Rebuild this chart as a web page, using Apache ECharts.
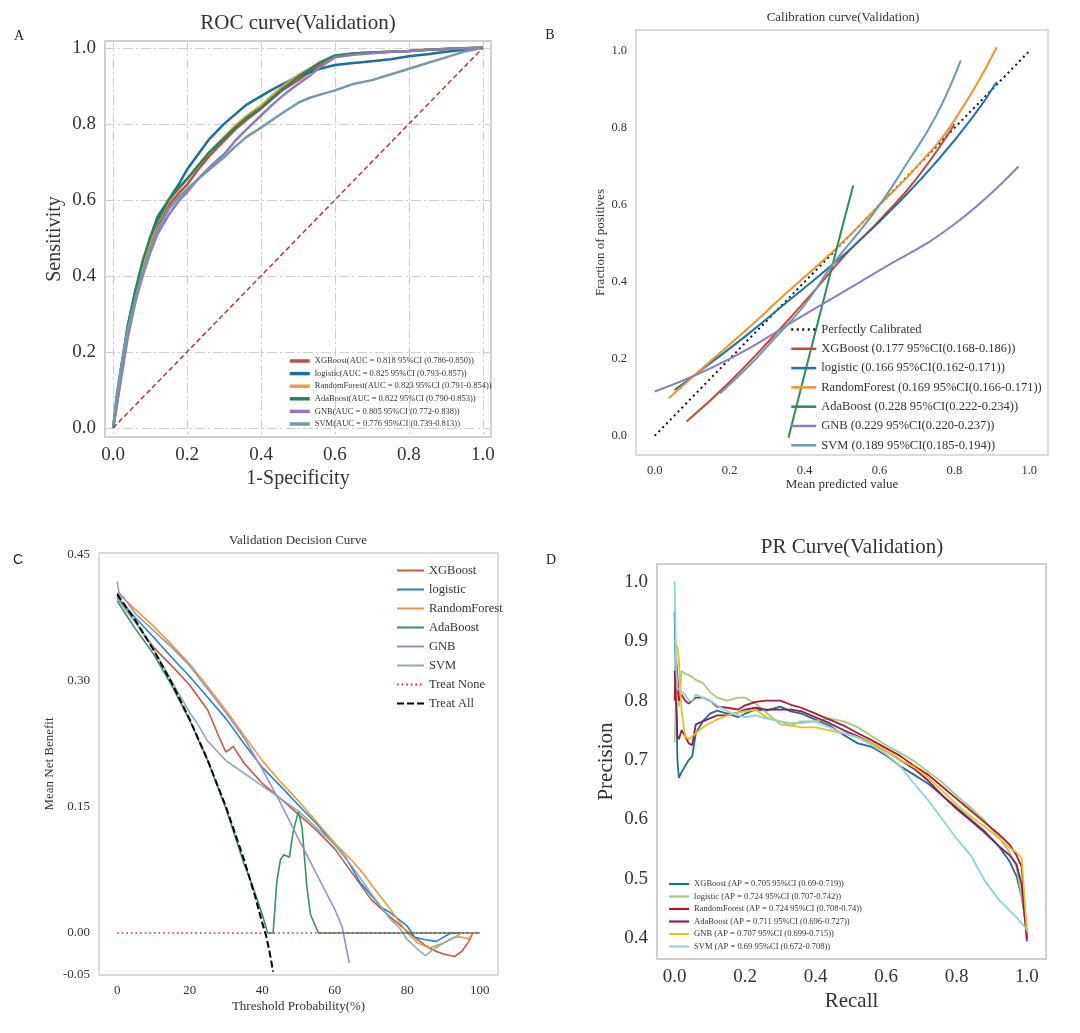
<!DOCTYPE html>
<html>
<head>
<meta charset="utf-8">
<script src="https://cdn.jsdelivr.net/npm/echarts@6/dist/echarts.min.js"></script>
<style>html,body{margin:0;padding:0;background:#fff}#c{width:1080px;height:1033px}</style>
</head>
<body>
<div id="c"></div>
<script>
// ---------------- Panel A: ROC ----------------
const rocFpr = [0,0.01,0.02,0.04,0.06,0.08,0.1,0.12,0.15,0.18,0.2,0.23,0.26,0.3,0.33,0.36,0.4,0.43,0.46,0.5,0.53,0.56,0.6,0.65,0.7,0.75,0.8,0.85,0.9,0.95,1.0];
const rocXGB = [0,0.06,0.13,0.25,0.34,0.42,0.48,0.53,0.585,0.62,0.64,0.68,0.715,0.755,0.785,0.81,0.84,0.865,0.89,0.915,0.935,0.955,0.978,0.985,0.988,0.99,0.992,0.995,0.997,0.999,1];
const rocLog = [0,0.08,0.15,0.27,0.36,0.43,0.50,0.555,0.60,0.645,0.68,0.72,0.76,0.80,0.825,0.85,0.873,0.89,0.905,0.925,0.935,0.945,0.955,0.96,0.965,0.97,0.978,0.983,0.99,0.995,1];
const rocRF  = [0,0.07,0.14,0.26,0.35,0.43,0.49,0.54,0.595,0.63,0.655,0.69,0.725,0.765,0.795,0.82,0.848,0.875,0.9,0.928,0.945,0.962,0.978,0.985,0.988,0.99,0.992,0.995,0.997,0.999,1];
const rocAda = [0,0.07,0.14,0.27,0.36,0.44,0.50,0.545,0.60,0.635,0.655,0.69,0.725,0.762,0.79,0.815,0.842,0.868,0.893,0.923,0.942,0.962,0.98,0.985,0.988,0.99,0.992,0.995,0.997,0.999,1];
const rocGNB = [0,0.06,0.12,0.24,0.33,0.40,0.46,0.51,0.56,0.6,0.62,0.655,0.685,0.72,0.755,0.785,0.822,0.85,0.875,0.905,0.925,0.95,0.975,0.982,0.986,0.99,0.992,0.995,0.997,0.999,1];
const rocSVM = [0,0.09,0.15,0.26,0.34,0.41,0.47,0.52,0.575,0.61,0.628,0.655,0.68,0.712,0.74,0.765,0.79,0.81,0.83,0.855,0.868,0.877,0.888,0.905,0.915,0.93,0.945,0.96,0.975,0.99,1];
const rocNames = ['XGBoost(AUC = 0.818 95%CI (0.786-0.850))','logistic(AUC = 0.825 95%CI (0.793-0.857))','RandomForest(AUC = 0.823 95%CI (0.791-0.854))','AdaBoost(AUC = 0.822 95%CI (0.790-0.853))','GNB(AUC = 0.805 95%CI (0.772-0.838))','SVM(AUC = 0.776 95%CI (0.739-0.813))'];
const rocTicks = [0,0.2,0.4,0.6,0.8,1.0];

// ---------------- Panel B: Calibration ----------------
const calPerfX = [0,1];
const calPerfY = [0,1];
const calXGBX = [0.085,0.2,0.316,0.42,0.512,0.6,0.7,0.8];
const calXGBY = [0.037,0.14,0.258,0.37,0.474,0.56,0.67,0.81];
const calLogX = [0.053,0.15,0.25,0.35,0.45,0.55,0.65,0.75,0.85,0.913];
const calLogY = [0.119,0.19,0.265,0.345,0.425,0.51,0.605,0.71,0.83,0.92];
const calRFX  = [0.038,0.15,0.25,0.35,0.48,0.6,0.7,0.8,0.913];
const calRFY  = [0.098,0.195,0.28,0.37,0.483,0.6,0.7,0.82,1.01];
const calAdaX = [0.357,0.4,0.45,0.5,0.53];
const calAdaY = [-0.005,0.16,0.35,0.54,0.651];
const calGNBX = [0,0.2,0.4,0.6,0.8,0.971];
const calGNBY = [0.115,0.2,0.315,0.43,0.55,0.70];
const calSVMX = [0.174,0.25,0.316,0.4,0.477,0.584,0.673,0.75,0.817];
const calSVMY = [0.11,0.18,0.249,0.34,0.448,0.578,0.708,0.83,0.976];
const calNames = ['Perfectly Calibrated','XGBoost (0.177 95%CI(0.168-0.186))','logistic (0.166 95%CI(0.162-0.171))','RandomForest (0.169 95%CI(0.166-0.171))','AdaBoost (0.228 95%CI(0.222-0.234))','GNB (0.229 95%CI(0.220-0.237))','SVM (0.189 95%CI(0.185-0.194))'];
const calTicks = [0,0.2,0.4,0.6,0.8,1.0];

// ---------------- Panel C: Decision curve ----------------
const dcaXGBT = [0,5,10,15,20,25,28,30,32,35,40,45,50,55,60,65,70,75,80,85,88,90,93,95,97,98,100];
const dcaXGBV = [0.40,0.37,0.34,0.318,0.295,0.265,0.234,0.215,0.222,0.202,0.178,0.16,0.141,0.122,0.10,0.07,0.04,0.02,0.002,-0.015,-0.022,-0.025,-0.028,-0.022,-0.01,0.0,0.0];
const dcaLogT = [0,5,10,15,20,25,30,35,40,45,50,55,60,63,65,67,70,73,75,78,80,82,85,88,90,92,95,100];
const dcaLogV = [0.40,0.375,0.352,0.328,0.305,0.28,0.255,0.225,0.197,0.175,0.152,0.13,0.105,0.09,0.075,0.06,0.045,0.03,0.025,0.015,0.008,-0.005,-0.008,-0.01,-0.005,0.0,0.0,0.0];
const dcaRFT  = [0,5,10,15,20,25,30,35,40,45,50,55,60,65,68,70,75,78,80,83,86,90,93,95,97,98,100];
const dcaRFV  = [0.405,0.385,0.365,0.343,0.32,0.293,0.265,0.235,0.205,0.18,0.157,0.132,0.107,0.085,0.07,0.058,0.03,0.012,0.0,-0.012,-0.018,-0.012,-0.005,-0.005,-0.007,0.0,0.0];
const dcaAdaT = [0,3,5,10,15,20,25,30,35,37,40,41.5,43,44,45,46,47.5,48.5,50,51,52.3,53.3,55.5,60,70,80,90,100];
const dcaAdaV = [0.395,0.375,0.362,0.332,0.295,0.253,0.205,0.148,0.082,0.06,0.022,0.0,0.0,0.06,0.087,0.093,0.09,0.12,0.145,0.125,0.055,0.022,0.0,0,0,0,0,0];
const dcaGNBT = [0,0.5,2,5,10,15,20,25,30,35,40,45,50,55,60,62,64];
const dcaGNBV = [0.418,0.405,0.398,0.38,0.36,0.34,0.318,0.29,0.262,0.232,0.195,0.155,0.112,0.07,0.028,0.008,-0.036];
const dcaSVMT = [0,5,10,15,20,22,25,30,35,40,45,50,55,60,65,70,75,78,80,83,85,87,90,93,95,100];
const dcaSVMV = [0.398,0.37,0.338,0.3,0.262,0.25,0.228,0.205,0.19,0.175,0.16,0.145,0.125,0.105,0.078,0.047,0.018,0.005,-0.008,-0.02,-0.027,-0.02,-0.012,-0.005,0,0];
const dcaNoneT = [0,100];
const dcaNoneV = [0,0];
const dcaAllT = [0,5,10,15,20,25,30,35,38,40,41,42,43];
const dcaAllV = [0.403,0.372,0.337,0.298,0.254,0.205,0.150,0.087,0.044,0.012,-0.002,-0.022,-0.046];
const dcaNames = ['XGBoost','logistic','RandomForest','AdaBoost','GNB','SVM','Treat None','Treat All'];
const dcaXTicks = [0,20,40,60,80,100];
const dcaYTicks = [-0.05,0,0.15,0.30,0.45];

// ---------------- Panel D: PR ----------------
const prRecall = [0,0.004,0.008,0.012,0.02,0.03,0.04,0.05,0.06,0.08,0.10,0.12,0.15,0.18,0.20,0.23,0.26,0.30,0.33,0.36,0.40,0.44,0.48,0.52,0.56,0.60,0.64,0.68,0.72,0.76,0.80,0.84,0.88,0.92,0.95,0.97,0.985,1.0];
const prXGB = [0.95,0.82,0.70,0.67,0.68,0.69,0.70,0.706,0.745,0.765,0.778,0.783,0.778,0.772,0.778,0.785,0.783,0.79,0.782,0.778,0.768,0.758,0.742,0.728,0.722,0.708,0.69,0.675,0.66,0.64,0.62,0.6,0.58,0.555,0.53,0.505,0.47,0.41];
const prLog = [0.73,0.80,0.83,0.79,0.85,0.845,0.843,0.84,0.835,0.83,0.815,0.805,0.80,0.805,0.805,0.795,0.78,0.76,0.758,0.765,0.765,0.77,0.765,0.755,0.74,0.725,0.712,0.698,0.68,0.662,0.64,0.62,0.598,0.57,0.545,0.52,0.47,0.42];
const prRF  = [0.80,0.87,0.84,0.80,0.81,0.80,0.795,0.80,0.805,0.805,0.80,0.79,0.788,0.785,0.792,0.798,0.80,0.80,0.793,0.788,0.778,0.768,0.758,0.745,0.733,0.72,0.707,0.69,0.675,0.655,0.635,0.615,0.595,0.575,0.558,0.54,0.52,0.40];
const prAda = [0.85,0.80,0.74,0.735,0.75,0.74,0.728,0.725,0.76,0.765,0.77,0.775,0.775,0.78,0.785,0.788,0.785,0.785,0.785,0.782,0.772,0.762,0.75,0.74,0.728,0.715,0.70,0.685,0.665,0.64,0.618,0.598,0.578,0.555,0.54,0.525,0.49,0.395];
const prGNB = [0.90,0.90,0.89,0.87,0.78,0.74,0.735,0.74,0.745,0.755,0.762,0.768,0.775,0.78,0.782,0.785,0.772,0.765,0.758,0.755,0.755,0.75,0.745,0.738,0.728,0.715,0.70,0.688,0.67,0.648,0.625,0.605,0.588,0.568,0.552,0.545,0.535,0.41];
const prSVM = [1.0,0.86,0.82,0.82,0.815,0.81,0.80,0.80,0.81,0.805,0.80,0.792,0.782,0.775,0.772,0.775,0.77,0.765,0.762,0.762,0.765,0.755,0.745,0.738,0.725,0.71,0.69,0.66,0.632,0.60,0.568,0.54,0.497,0.465,0.447,0.435,0.425,0.415];
const prNames = ['XGBoost (AP = 0.705 95%CI (0.69-0.719))','logistic (AP = 0.724 95%CI (0.707-0.742))','RandomForest (AP = 0.724 95%CI (0.708-0.74))','AdaBoost (AP = 0.711 95%CI (0.696-0.727))','GNB (AP = 0.707 95%CI (0.699-0.715))','SVM (AP = 0.69 95%CI (0.672-0.708))'];
const prTicks = [0.0,0.2,0.4,0.6,0.8,1.0];
const prYTicks = [0.4,0.5,0.6,0.7,0.8,0.9,1.0];

// ---------------- build ----------------
const FONT = '"Liberation Serif","Times New Roman",serif';
const TXT = '#333';
const pairs = (xs, ys) => xs.map((x, i) => [x, ys[i]]);

function axis(gi, min, max, ticks, fmt, fs, name, nameGap, nameFs, grid) {
  return {
    type: 'value', gridIndex: gi, min: min, max: max,
    axisLine: {show: false},
    axisTick: {show: false, customValues: ticks},
    axisLabel: {customValues: ticks, formatter: fmt, fontFamily: FONT, fontSize: fs, color: TXT, margin: 9},
    splitLine: grid ? {show: true, lineStyle: {color: '#cfcfcf', width: 1, type: [10, 3, 2, 3]}} : {show: false},
    name: name, nameLocation: 'middle', nameGap: nameGap,
    nameTextStyle: {fontFamily: FONT, fontSize: nameFs, color: TXT}
  };
}
const f1 = v => v.toFixed(1);
const f2 = v => v.toFixed(2);
const f0 = v => String(Math.round(v));

function line(name, data, color, width, xi, extra) {
  return Object.assign({
    type: 'line', name: name, data: data, xAxisIndex: xi, yAxisIndex: xi,
    showSymbol: false, symbol: 'none', animation: false,
    lineStyle: {color: color, width: width}, itemStyle: {color: color}
  }, extra || {});
}

const series = [];
// A
const colA = ['#b5524b', '#1b6fa1', '#e2a04a', '#2b8359', '#8d7cb8', '#7499a9'];
const rocY = [rocXGB, rocLog, rocRF, rocAda, rocGNB, rocSVM];
rocY.forEach((ys, i) => series.push(line(rocNames[i], pairs(rocFpr, ys), colA[i], 2.5, 0)));
series.push(line('chance', [[0, 0], [1, 1]], '#b03a2e', 1.5, 0, {lineStyle: {color: '#b03a2e', width: 1.5, type: [5, 3]}}));

// B
series.push(line(calNames[0], pairs(calPerfX, calPerfY), '#111', 2, 1, {lineStyle: {color: '#111', width: 2, type: [2, 3.5]}}));
const colB = ['#c9453a', '#1d72a8', '#e8962e', '#2e8b57', '#8d7fb5', '#6e9aac'];
const calXs = [calXGBX, calLogX, calRFX, calAdaX, calGNBX, calSVMX];
const calYs = [calXGBY, calLogY, calRFY, calAdaY, calGNBY, calSVMY];
calXs.forEach((xs, i) => series.push(line(calNames[i + 1], pairs(xs, calYs[i]), colB[i], 2, 1, {smooth: true})));

// C
const colC = ['#c05a4a', '#2a83bd', '#e89c3e', '#3d8d68', '#9c91c4', '#8eabb8'];
const dcaTs = [dcaXGBT, dcaLogT, dcaRFT, dcaAdaT, dcaGNBT, dcaSVMT];
const dcaVs = [dcaXGBV, dcaLogV, dcaRFV, dcaAdaV, dcaGNBV, dcaSVMV];
dcaTs.forEach((ts, i) => series.push(line(dcaNames[i], pairs(ts, dcaVs[i]), colC[i], 1.6, 2)));
series.push(line('Treat None', pairs(dcaNoneT, dcaNoneV), '#d62728', 1.6, 2, {lineStyle: {color: '#d62728', width: 1.6, type: [1.6, 3]}}));
series.push(line('Treat All', pairs(dcaAllT, dcaAllV), '#000', 2, 2, {lineStyle: {color: '#000', width: 2, type: [7, 3]}}));

// D
const colD = ['#1f6e8c', '#a6c97d', '#b31b2c', '#8a1c5c', '#e8c21a', '#92d0dc'];
const prYs = [prXGB, prLog, prRF, prAda, prGNB, prSVM];
prYs.forEach((ys, i) => series.push(line(prNames[i], pairs(prRecall, ys), colD[i], 1.8, 3)));

const legTxt = fs => ({fontFamily: FONT, fontSize: fs, color: TXT});
const noSym = {color: 'rgba(0,0,0,0)', borderWidth: 0, borderColor: 'rgba(0,0,0,0)', opacity: 0};

const option = {
  backgroundColor: '#fff',
  animation: false,
  grid: [
    {left: 105, top: 41, width: 386, height: 396, show: true, borderColor: '#cfcfcf', borderWidth: 2},
    {left: 636, top: 30, width: 412, height: 425, show: true, borderColor: '#d0d0d0', borderWidth: 1.5},
    {left: 99, top: 553, width: 399, height: 422, show: true, borderColor: '#d0d0d0', borderWidth: 1.5},
    {left: 657, top: 564, width: 389, height: 395, show: true, borderColor: '#cfcfcf', borderWidth: 2}
  ],
  xAxis: [
    axis(0, -0.022, 1.022, rocTicks, f1, 19, '1-Specificity', 32, 20, true),
    axis(1, -0.05, 1.05, calTicks, f1, 12.5, 'Mean predicted value', 23, 13, false),
    axis(2, -5, 105, dcaXTicks, f0, 13, 'Threshold Probability(%)', 25, 13, false),
    axis(3, -0.05, 1.054, prTicks, f1, 19, 'Recall', 32, 21, false)
  ],
  yAxis: [
    axis(0, -0.024, 1.018, rocTicks, f1, 19, 'Sensitivity', 40, 20, true),
    axis(1, -0.05, 1.055, calTicks, f1, 12.5, 'Fraction of positives', 29, 13, false),
    axis(2, -0.05, 0.452, dcaYTicks, f2, 13, 'Mean Net Benefit', 43, 13, false),
    axis(3, 0.365, 1.03, prYTicks, f1, 19, 'Precision', 40, 21, false)
  ],
  legend: [
    {orient: 'vertical', left: 288, top: 356, padding: 0, itemWidth: 20, itemHeight: 10, itemGap: 2.6, itemStyle: noSym, lineStyle: {width: 3.5}, textStyle: Object.assign(legTxt(8.5), {lineHeight: 10}), data: rocNames},
    {orient: 'vertical', left: 790, top: 323, padding: 0, itemWidth: 25, itemHeight: 12, itemGap: 6.3, itemStyle: noSym, lineStyle: {width: 2.5}, textStyle: Object.assign(legTxt(12.5), {lineHeight: 12}), data: calNames},
    {orient: 'vertical', left: 396, top: 564, padding: 0, itemWidth: 27, itemHeight: 12, itemGap: 6, itemStyle: noSym, textStyle: Object.assign(legTxt(12.5), {lineHeight: 12}), data: dcaNames},
    {orient: 'vertical', left: 668, top: 879, padding: 0, itemWidth: 20, itemHeight: 10, itemGap: 2.5, itemStyle: noSym, lineStyle: {width: 2.2}, textStyle: Object.assign(legTxt(8.5), {lineHeight: 10}), data: prNames}
  ],
  graphic: [
    {type: 'text', x: 298, y: 23, style: {text: 'ROC curve(Validation)', fontFamily: FONT, fontSize: 21, fill: TXT, align: 'center', verticalAlign: 'middle'}},
    {type: 'text', x: 843, y: 18, style: {text: 'Calibration curve(Validation)', fontFamily: FONT, fontSize: 13, fill: TXT, align: 'center', verticalAlign: 'middle'}},
    {type: 'text', x: 298, y: 541, style: {text: 'Validation Decision Curve', fontFamily: FONT, fontSize: 13, fill: TXT, align: 'center', verticalAlign: 'middle'}},
    {type: 'text', x: 852, y: 547, style: {text: 'PR Curve(Validation)', fontFamily: FONT, fontSize: 21, fill: TXT, align: 'center', verticalAlign: 'middle'}},
    {type: 'text', x: 19, y: 36, style: {text: 'A', fontFamily: FONT, fontSize: 14, fill: '#222', align: 'center', verticalAlign: 'middle'}},
    {type: 'text', x: 550, y: 35, style: {text: 'B', fontFamily: FONT, fontSize: 14, fill: '#222', align: 'center', verticalAlign: 'middle'}},
    {type: 'text', x: 18, y: 560, style: {text: 'C', fontFamily: '"Liberation Sans",sans-serif', fontSize: 14, fill: '#222', align: 'center', verticalAlign: 'middle'}},
    {type: 'text', x: 551, y: 560, style: {text: 'D', fontFamily: FONT, fontSize: 14, fill: '#222', align: 'center', verticalAlign: 'middle'}}
  ],
  series: series
};

const chart = echarts.init(document.getElementById('c'), null, {renderer: 'canvas'});
chart.setOption(option);
</script>
</body>
</html>
